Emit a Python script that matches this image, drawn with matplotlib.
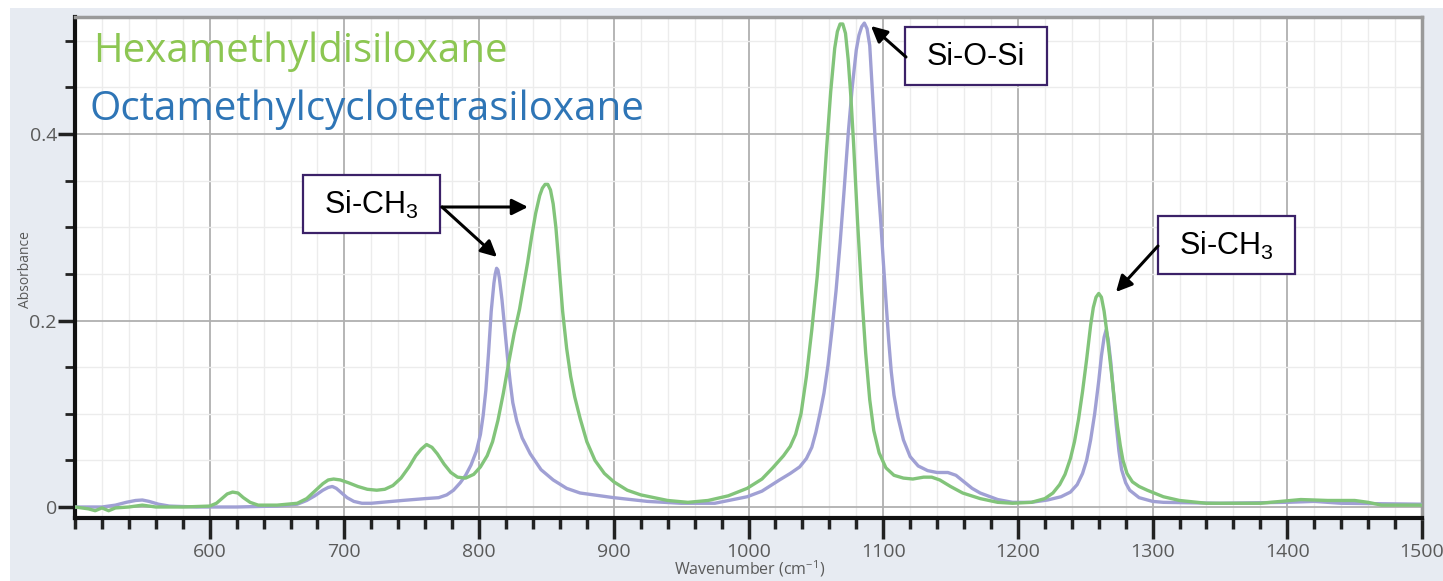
import matplotlib
matplotlib.use("Agg")
import matplotlib.pyplot as plt
from matplotlib.patches import Rectangle, FancyArrowPatch
from matplotlib.ticker import MultipleLocator, FixedLocator

# ---------------- data ----------------
# Hexamethyldisiloxane spectrum: (wavenumber, absorbance)
hmds_points = [
    (500, 0.0), (505, -0.001), (510, -0.002), (515, -0.004), (520, -0.001), (525, -0.004),
    (530, -0.001), (540, 0.0), (550, 0.002), (560, 0.0), (580, 0.0), (600, 0.001), (605, 0.004),
    (609, 0.009), (613, 0.014), (617, 0.016), (621, 0.015), (625, 0.010), (630, 0.005),
    (636, 0.002), (650, 0.002), (665, 0.004), (672, 0.009), (678, 0.017), (684, 0.025),
    (688, 0.029), (692, 0.030), (697, 0.029), (703, 0.026), (710, 0.022), (717, 0.019),
    (724, 0.018), (730, 0.019), (736, 0.023), (742, 0.031), (748, 0.043), (753, 0.055),
    (757, 0.062), (761, 0.067), (765, 0.064), (769, 0.057), (774, 0.046), (779, 0.037),
    (784, 0.032), (790, 0.031), (796, 0.035), (801, 0.043), (806, 0.055), (810, 0.070),
    (814, 0.093), (818, 0.122), (822, 0.155), (826, 0.186), (830, 0.212), (833, 0.237),
    (836, 0.262), (839, 0.290), (842, 0.315), (845, 0.334), (847, 0.342), (849, 0.346),
    (851, 0.346), (853, 0.340), (855, 0.325), (857, 0.300), (859, 0.265), (862, 0.210),
    (865, 0.170), (868, 0.140), (871, 0.118), (875, 0.095), (880, 0.070), (886, 0.050),
    (893, 0.036), (900, 0.027), (910, 0.018), (920, 0.013), (930, 0.010), (940, 0.007),
    (955, 0.005), (970, 0.007), (985, 0.012), (999, 0.020), (1010, 0.030), (1018, 0.042),
    (1026, 0.055), (1031, 0.065), (1035, 0.078), (1039, 0.100), (1043, 0.140), (1047, 0.190),
    (1051, 0.247), (1055, 0.320), (1058, 0.385), (1061, 0.445), (1064, 0.492), (1066, 0.510),
    (1068, 0.518), (1070, 0.518), (1072, 0.508), (1074, 0.480), (1076, 0.440), (1078, 0.390),
    (1081, 0.305), (1084, 0.230), (1087, 0.165), (1090, 0.115), (1093, 0.082), (1097, 0.058),
    (1102, 0.042), (1108, 0.034), (1115, 0.031), (1122, 0.030), (1130, 0.032), (1136, 0.032),
    (1142, 0.029), (1150, 0.022), (1159, 0.015), (1172, 0.009), (1185, 0.005), (1196, 0.004),
    (1210, 0.005), (1220, 0.009), (1226, 0.015), (1231, 0.024), (1235, 0.035), (1239, 0.052),
    (1242, 0.070), (1245, 0.094), (1248, 0.124), (1251, 0.158), (1254, 0.195), (1256, 0.214),
    (1258, 0.225), (1260, 0.229), (1262, 0.225), (1264, 0.210), (1266, 0.188), (1268, 0.163),
    (1270, 0.137), (1272, 0.110), (1274, 0.086), (1276, 0.066), (1278, 0.050), (1281, 0.036),
    (1285, 0.027), (1290, 0.022), (1296, 0.018), (1308, 0.011), (1320, 0.007), (1340, 0.004),
    (1360, 0.004), (1380, 0.004), (1395, 0.006), (1410, 0.008), (1430, 0.007), (1450, 0.007),
    (1460, 0.005), (1470, 0.002), (1500, 0.002),
]

# Octamethylcyclotetrasiloxane spectrum: (wavenumber, absorbance)
d4_points = [
    (500, 0.0), (520, 0.0), (530, 0.002), (538, 0.005), (545, 0.007), (550, 0.0075),
    (555, 0.006), (562, 0.003), (570, 0.001), (590, 0.0), (620, 0.0), (650, 0.001), (665, 0.003),
    (672, 0.007), (678, 0.012), (684, 0.018), (688, 0.021), (691, 0.022), (694, 0.020),
    (698, 0.015), (702, 0.010), (707, 0.006), (713, 0.004), (720, 0.004), (743, 0.007),
    (760, 0.009), (770, 0.010), (776, 0.013), (781, 0.018), (786, 0.026), (790, 0.034),
    (794, 0.045), (798, 0.060), (801, 0.078), (803, 0.098), (805, 0.125), (807, 0.165),
    (809, 0.210), (811, 0.240), (812, 0.250), (813, 0.256), (814, 0.254), (815, 0.246),
    (817, 0.222), (819, 0.192), (821, 0.162), (823, 0.135), (825, 0.112), (828, 0.092),
    (832, 0.074), (838, 0.057), (846, 0.040), (855, 0.029), (865, 0.020), (875, 0.015),
    (890, 0.012), (900, 0.010), (925, 0.006), (950, 0.004), (975, 0.004), (999, 0.011),
    (1010, 0.017), (1023, 0.029), (1031, 0.036), (1038, 0.043), (1043, 0.052), (1047, 0.064),
    (1050, 0.080), (1053, 0.100), (1056, 0.122), (1059, 0.152), (1062, 0.190), (1065, 0.232),
    (1068, 0.283), (1071, 0.340), (1074, 0.400), (1077, 0.450), (1080, 0.490), (1082, 0.506),
    (1084, 0.515), (1086, 0.519), (1088, 0.513), (1090, 0.495), (1092, 0.445), (1094, 0.395),
    (1096, 0.350), (1098, 0.310), (1100, 0.265), (1102, 0.222), (1104, 0.180), (1106, 0.145),
    (1108, 0.120), (1111, 0.096), (1115, 0.072), (1120, 0.054), (1126, 0.044), (1133, 0.039),
    (1140, 0.037), (1148, 0.037), (1154, 0.034), (1160, 0.027), (1166, 0.020), (1172, 0.015),
    (1185, 0.008), (1196, 0.005), (1210, 0.005), (1222, 0.0075), (1232, 0.011), (1239, 0.016),
    (1244, 0.024), (1248, 0.036), (1251, 0.050), (1254, 0.072), (1257, 0.100), (1260, 0.135),
    (1262, 0.162), (1264, 0.182), (1265.5, 0.190), (1267, 0.180), (1269, 0.155), (1271, 0.122),
    (1273, 0.088), (1275, 0.060), (1277, 0.040), (1280, 0.026), (1283, 0.018), (1290, 0.010),
    (1300, 0.006), (1308, 0.005), (1350, 0.004), (1400, 0.005), (1420, 0.006), (1440, 0.004),
    (1500, 0.003),
]

hmds_x = [p[0] for p in hmds_points]
hmds_y = [p[1] for p in hmds_points]
d4_x = [p[0] for p in d4_points]
d4_y = [p[1] for p in d4_points]

series_names = ["Hexamethyldisiloxane", "Octamethylcyclotetrasiloxane"]
x_ticks = [600, 700, 800, 900, 1000, 1100, 1200, 1300, 1400, 1500]
y_ticks = [0.0, 0.2, 0.4]
y_tick_labels = ["0", "0.2", "0.4"]
annotations = ["Si-CH$_{\\mathregular{3}}$", "Si-O-Si", "Si-CH$_{\\mathregular{3}}$"]

# ---------------- styling ----------------
W, H = 1443, 581
plt.rcParams['font.family'] = ['Open Sans', 'DejaVu Sans']
fig = plt.figure(figsize=(W / 100, H / 100), dpi=100, facecolor='white')

def fx(px):
    return px / W

def fy(py):
    return 1 - py / H

# grey-blue panel behind the chart
fig.add_artist(Rectangle((fx(10), 0), 1 - fx(10), fy(8), transform=fig.transFigure,
                         facecolor='#e7ebf2', edgecolor='none', zorder=-10))

ax = fig.add_axes([fx(75), fy(518), fx(1422) - fx(75), fy(17) - fy(518)])
ax.set_facecolor('white')
ax.set_xlim(500, 1500)
ax.set_ylim(-0.0118, 0.5255)

GREEN_LINE = '#82c47a'
LAV_LINE = '#a0a0d4'
ax.plot(d4_x, d4_y, color=LAV_LINE, lw=2.4, zorder=3, solid_joinstyle='round')
ax.plot(hmds_x, hmds_y, color=GREEN_LINE, lw=2.4, zorder=4, solid_joinstyle='round')

# ticks & grid
ax.xaxis.set_major_locator(FixedLocator(x_ticks))
ax.xaxis.set_minor_locator(MultipleLocator(20))
ax.yaxis.set_major_locator(FixedLocator(y_ticks))
ax.set_yticklabels(y_tick_labels)
ax.yaxis.set_minor_locator(MultipleLocator(0.05))
ax.grid(which='major', color='#b0b0b0', lw=1.3)
ax.grid(which='minor', color='#ececec', lw=1.0)
ax.set_axisbelow(True)

ax.tick_params(axis='x', which='major', direction='out', length=15, width=2.5, color='#222222',
               labelsize=14, labelcolor='#5a5a5a', pad=3)
ax.tick_params(axis='x', which='minor', direction='out', length=8, width=2.5, color='#222222')
ax.tick_params(axis='y', which='major', direction='out', length=12, width=2.5, color='#222222',
               labelsize=14, labelcolor='#5a5a5a', pad=1)
ax.tick_params(axis='y', which='minor', direction='out', length=7, width=2.0, color='#222222')

for side in ['left', 'bottom']:
    ax.spines[side].set_color('#111111')
    ax.spines[side].set_linewidth(3)
for side in ['top', 'right']:
    ax.spines[side].set_color('#9a9a9a')
    ax.spines[side].set_linewidth(2.5)

fig.text(fx(26), fy(270), "Absorbance", rotation=90, ha='center', va='center',
         fontsize=10, color='#5a5a5a')
fig.text(fx(750), fy(579), "Wavenumber (cm$^{\\mathregular{-1}}$)", ha='center', va='bottom',
         fontsize=11.5, color='#5a5a5a')

# legend-like coloured labels
fig.text(fx(93), fy(62), series_names[0], fontsize=29, color='#8cc652', ha='left', va='baseline')
fig.text(fx(90), fy(120), series_names[1], fontsize=29, color='#2e75b6', ha='left', va='baseline')

# annotation boxes
BOX_EDGE = '#3b2168'
boxes = [(303, 175, 440, 233), (905, 27, 1047, 85), (1158, 216, 1295, 274)]
for (x0, y0, x1, y1), label in zip(boxes, annotations):
    fig.add_artist(Rectangle((fx(x0), fy(y1)), fx(x1) - fx(x0), fy(y0) - fy(y1),
                             transform=fig.transFigure, facecolor='white',
                             edgecolor=BOX_EDGE, lw=1.6, zorder=5))
    fig.text(fx((x0 + x1) / 2), fy((y0 + y1) / 2 + 1), label, ha='center', va='center',
             fontsize=22, family='Liberation Sans', color='black', zorder=6)

arrows = [((442, 207), (528, 207)), ((442, 207), (497, 257)),
          ((906, 57), (871, 26)), ((1158, 246), (1116, 292))]
for (sx, sy), (ex, ey) in arrows:
    fig.add_artist(FancyArrowPatch((fx(sx), fy(sy)), (fx(ex), fy(ey)), transform=fig.transFigure,
                                   arrowstyle='-|>', mutation_scale=24, lw=2.2, color='black',
                                   shrinkA=0, shrinkB=0, zorder=7))

fig.savefig("out.png", dpi=100, facecolor='white')
